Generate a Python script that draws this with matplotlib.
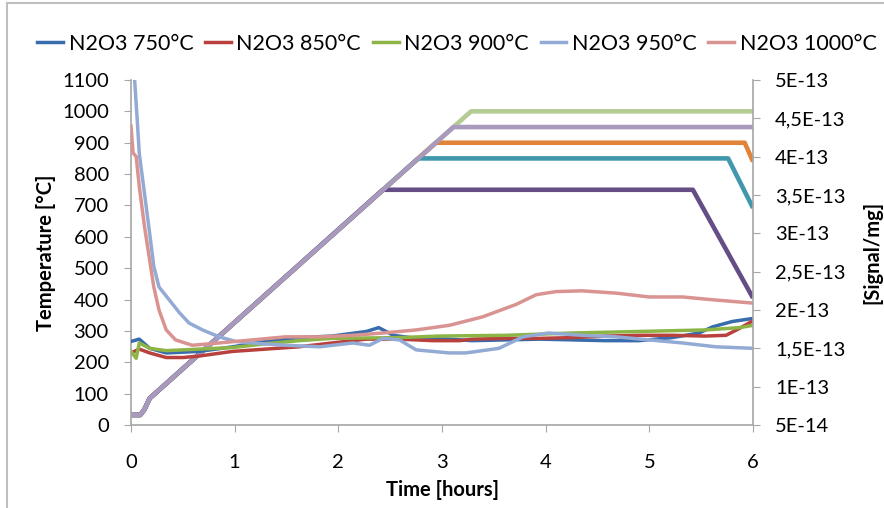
import matplotlib
matplotlib.use("Agg")
import matplotlib.pyplot as plt
from matplotlib.lines import Line2D

plt.rcParams["font.family"] = ["Lato", "DejaVu Sans"]

# furnace temperature programmes (left axis, °C), breakpoints
temp_750_t = [0, 0.09, 0.13, 0.18, 2.43, 5.42, 6.0]
temp_750 = [32, 32, 50, 85, 750, 750, 405]
temp_850_t = [0, 0.09, 0.13, 0.18, 2.77, 5.76, 6.0]
temp_850 = [32, 32, 50, 85, 850, 850, 692]
temp_900_t = [0, 0.09, 0.13, 0.18, 2.94, 5.92, 6.0]
temp_900 = [32, 32, 50, 85, 900, 900, 840]
temp_950_t = [0, 0.09, 0.13, 0.18, 3.11, 6.0]
temp_950 = [32, 32, 50, 85, 950, 950]
temp_1000_t = [0, 0.09, 0.13, 0.18, 3.28, 6.0]
temp_1000 = [32, 32, 50, 85, 1000, 1000]

# N2O3 signal per mg (right axis), in units of 1E-13
sig_750_t = [0, 0.08, 0.18, 0.34, 0.66, 0.98, 1.30, 1.62, 1.94, 2.27, 2.39, 2.53,
             2.75, 3.07, 3.29, 3.62, 3.94, 4.26, 4.58, 4.90, 5.22, 5.48, 5.61, 5.80, 6.0]
sig_750 = [1.59, 1.62, 1.50, 1.44, 1.46, 1.52, 1.59, 1.64, 1.66, 1.72, 1.77, 1.67,
           1.63, 1.62, 1.60, 1.61, 1.62, 1.61, 1.60, 1.60, 1.64, 1.70, 1.78, 1.85, 1.89]

sig_850_t = [0, 0.08, 0.18, 0.34, 0.50, 0.66, 0.98, 1.30, 1.62, 1.94, 2.27, 2.59,
             2.91, 3.17, 3.29, 3.62, 3.94, 4.26, 4.58, 4.90, 5.22, 5.54, 5.74, 5.87, 6.0]
sig_850 = [1.44, 1.49, 1.44, 1.38, 1.38, 1.40, 1.46, 1.49, 1.52, 1.57, 1.62, 1.62,
           1.60, 1.60, 1.62, 1.63, 1.63, 1.64, 1.66, 1.67, 1.67, 1.66, 1.67, 1.76, 1.86]

sig_900_t = [0, 0.05, 0.08, 0.18, 0.34, 0.66, 0.98, 1.30, 1.62, 1.94, 2.59, 2.97,
             3.62, 4.26, 4.90, 5.54, 5.87, 6.0]
sig_900 = [1.46, 1.37, 1.57, 1.50, 1.47, 1.49, 1.51, 1.56, 1.60, 1.63, 1.64, 1.66,
           1.67, 1.70, 1.72, 1.74, 1.77, 1.80]

sig_950_t = [0.035, 0.06, 0.08, 0.13, 0.18, 0.22, 0.27, 0.37, 0.47, 0.56, 0.69, 0.85,
             1.01, 1.17, 1.49, 1.82, 2.14, 2.30, 2.43, 2.59, 2.75, 2.91, 3.07, 3.23,
             3.55, 3.78, 4.03, 4.35, 4.68, 5.0, 5.32, 5.64, 6.0]
sig_950 = [5.0, 4.48, 4.04, 3.52, 3.0, 2.57, 2.30, 2.13, 1.96, 1.83, 1.74, 1.65,
           1.59, 1.57, 1.54, 1.52, 1.57, 1.54, 1.63, 1.61, 1.48, 1.46, 1.44, 1.44,
           1.50, 1.65, 1.70, 1.67, 1.65, 1.61, 1.57, 1.52, 1.50]

sig_1000_t = [0, 0.02, 0.05, 0.08, 0.13, 0.18, 0.22, 0.27, 0.34, 0.43, 0.59, 0.85,
              1.17, 1.49, 1.82, 2.14, 2.43, 2.75, 3.07, 3.39, 3.71, 3.91, 4.10, 4.35,
              4.68, 5.0, 5.32, 5.64, 6.0]
sig_1000 = [4.40, 4.05, 4.0, 3.61, 3.09, 2.65, 2.30, 2.00, 1.74, 1.61, 1.54, 1.57,
            1.61, 1.65, 1.65, 1.67, 1.70, 1.74, 1.80, 1.91, 2.07, 2.20, 2.24, 2.25,
            2.22, 2.17, 2.17, 2.13, 2.09]

legend_labels = ["N2O3 750°C", "N2O3 850°C", "N2O3 900°C", "N2O3 950°C", "N2O3 1000°C"]
temp_ticks = list(range(0, 1101, 100))
sig_ticks = [0.5, 1.0, 1.5, 2.0, 2.5, 3.0, 3.5, 4.0, 4.5, 5.0]
sig_tick_labels = ["5E-14", "1E-13", "1,5E-13", "2E-13", "2,5E-13", "3E-13",
                   "3,5E-13", "4E-13", "4,5E-13", "5E-13"]

grey = "#a6a6a6"
fs = 14.5

fig = plt.figure(figsize=(8.84, 5.08), dpi=100)
ax = fig.add_axes([131 / 884, 1 - 425 / 508, 622 / 884, 345 / 508])
ax2 = ax.twinx()

# temperature curves, 950 drawn last so it sits on top of the common ramp
ax.plot(temp_1000_t, temp_1000, color="#b4cc93", lw=3.3, solid_capstyle="butt")
ax.plot(temp_900_t, temp_900, color="#e0843a", lw=3.3, solid_capstyle="butt")
ax.plot(temp_850_t, temp_850, color="#4097ae", lw=3.3, solid_capstyle="butt")
ax.plot(temp_750_t, temp_750, color="#654e86", lw=3.3, solid_capstyle="butt")
ax.plot(temp_950_t, temp_950, color="#a899bd", lw=3.3, solid_capstyle="butt")

sig_colors = ["#386cad", "#b9413d", "#8db546", "#93aad4", "#d99391"]
sig_series = [(sig_750_t, sig_750), (sig_850_t, sig_850), (sig_900_t, sig_900),
              (sig_950_t, sig_950), (sig_1000_t, sig_1000)]
for (t, s), c, lab in zip(sig_series, sig_colors, legend_labels):
    ax2.plot(t, [v * 1e-13 for v in s], color=c, lw=2.5, label=lab)

ax.set_xlim(0, 6)
ax.set_ylim(0, 1100)
ax.set_yticks(temp_ticks)
ax.set_xticks(range(0, 7))
ax2.set_ylim(0.5e-13, 5e-13)
ax2.set_yticks([v * 1e-13 for v in sig_ticks])
ax2.set_yticklabels(sig_tick_labels)

for a in (ax, ax2):
    a.spines["top"].set_visible(False)
    for side in ("left", "right", "bottom"):
        a.spines[side].set_color(grey)
        a.spines[side].set_linewidth(1.2)
ax.spines["right"].set_visible(False)
ax2.spines["left"].set_visible(False)
ax2.spines["bottom"].set_visible(False)

ax.tick_params(axis="y", direction="out", length=5, color=grey, labelsize=fs, pad=11)
ax.tick_params(axis="x", direction="out", length=5, color=grey, labelsize=fs, pad=16)
ax2.tick_params(axis="y", direction="out", length=5, color=grey, labelsize=fs, pad=11)

ax.set_xlabel("Time [hours]", fontsize=fs, fontweight="bold", labelpad=6)
ax.set_ylabel("Temperature [°C]", fontsize=fs, fontweight="bold", labelpad=4)
ax2.set_ylabel("[Signal/mg]", fontsize=fs, fontweight="bold", labelpad=12)

fig.legend(loc="center", bbox_to_anchor=(457 / 884, 1 - 44 / 508), ncol=5,
           frameon=False, fontsize=15.5, handlelength=1.2, handletextpad=0.25,
           columnspacing=0.55)

# outer chart frame (only left and top edges are in the crop)
fig.add_artist(Line2D([7 / 884, 7 / 884], [0, 1 - 3 / 508], color="#bfbfbf", lw=1.5))
fig.add_artist(Line2D([7 / 884, 1], [1 - 3 / 508, 1 - 3 / 508], color="#bfbfbf", lw=1.5))

fig.savefig("out.png", dpi=100)
